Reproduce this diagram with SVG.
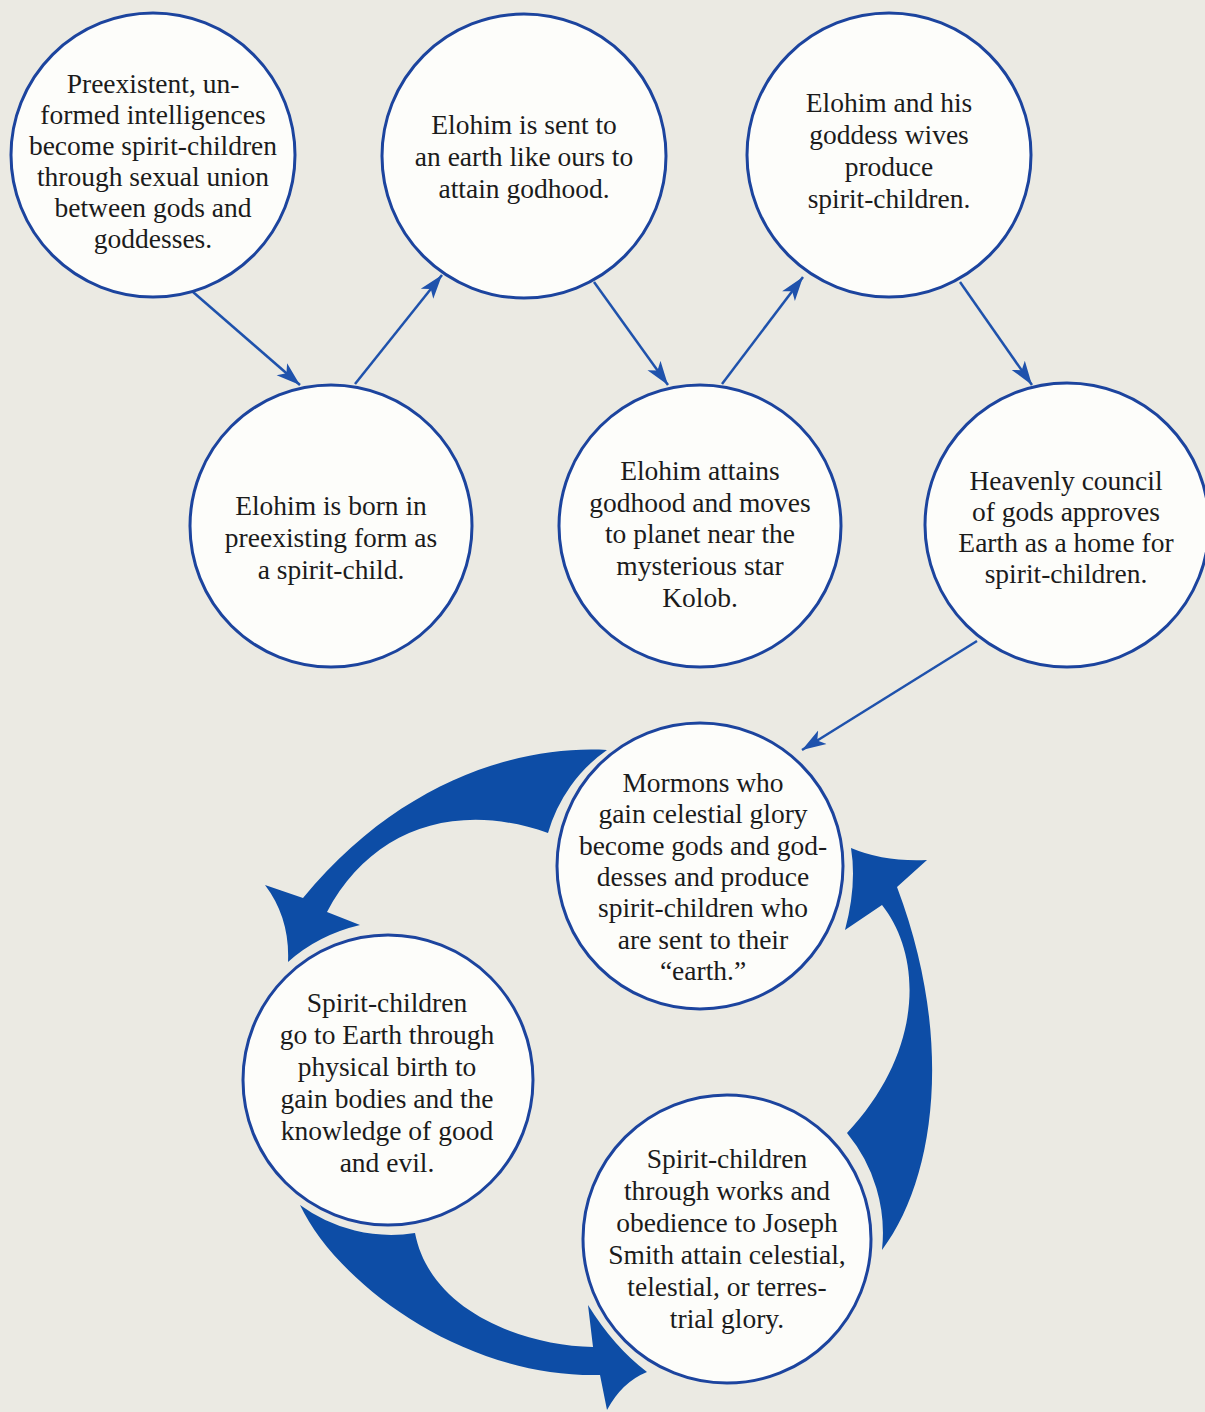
<svg xmlns="http://www.w3.org/2000/svg" width="1205" height="1412" viewBox="0 0 1205 1412">
<style>
.bg{fill:#ebeae3}
.node circle{fill:#fdfdfa;stroke:#1c449e;stroke-width:3}
.node text{font-family:"Liberation Serif","Times New Roman",serif;font-size:27.5px;fill:#1b1b1b;text-anchor:middle}
.link{fill:none;stroke:#1f52ac;stroke-width:2.5;marker-end:url(#ah)}
.big{fill:#0d4da6}
</style>
<defs>
<marker id="ah" viewBox="-24 -9 25 18" refX="0" refY="0" markerWidth="25" markerHeight="18" markerUnits="userSpaceOnUse" orient="auto">
<path d="M0,0 L-24,-8 L-18,0 L-24,8 Z" fill="#1f52ac"/>
</marker>
</defs>
<rect class="bg" x="0" y="0" width="1205" height="1412"/>

<g id="connectors">
<line class="link" x1="193" y1="292" x2="300" y2="385"/>
<line class="link" x1="355" y1="384" x2="442" y2="275"/>
<line class="link" x1="594" y1="282" x2="668" y2="385"/>
<line class="link" x1="722" y1="384" x2="803" y2="277"/>
<line class="link" x1="960" y1="282" x2="1032" y2="385"/>
<line class="link" x1="977" y1="641" x2="802" y2="750"/>
<path class="big" d="M607,750 C520,745 400,780 303,898 L265,885 Q290,918 288,962 Q318,935 360,925 L327,912 C370,830 455,800 548,833 A152,152 0 0 1 607,750 Z"/>
<path class="big" d="M882,1250 C935,1180 955,1040 897,887 L927,860 Q884,862 851,848 Q857,885 845,930 L882,905 C922,955 925,1050 847,1133 A157,157 0 0 1 882,1250 Z"/>
<path class="big" d="M300,1205 C335,1280 460,1378 600,1375 L607,1410 Q622,1382 647,1372 Q614,1347 588,1305 L593,1347 C520,1345 430,1310 415,1233 A154,154 0 0 1 300,1205 Z"/>
</g>

<g id="n1" class="node">
<circle cx="153" cy="155" r="142"/>
<text x="153" y="93">Preexistent, un-</text>
<text x="153" y="124">formed intelligences</text>
<text x="153" y="155">become spirit-children</text>
<text x="153" y="186">through sexual union</text>
<text x="153" y="217">between gods and</text>
<text x="153" y="248">goddesses.</text>
</g>
<g id="n2" class="node">
<circle cx="524" cy="156" r="142"/>
<text x="524" y="134">Elohim is sent to</text>
<text x="524" y="166">an earth like ours to</text>
<text x="524" y="198">attain godhood.</text>
</g>
<g id="n3" class="node">
<circle cx="889" cy="155" r="142"/>
<text x="889" y="112">Elohim and his</text>
<text x="889" y="144">goddess wives</text>
<text x="889" y="176">produce</text>
<text x="889" y="208">spirit-children.</text>
</g>
<g id="n4" class="node">
<circle cx="331" cy="526" r="141"/>
<text x="331" y="515">Elohim is born in</text>
<text x="331" y="547">preexisting form as</text>
<text x="331" y="579">a spirit-child.</text>
</g>
<g id="n5" class="node">
<circle cx="700" cy="526" r="141"/>
<text x="700" y="480">Elohim attains</text>
<text x="700" y="512">godhood and moves</text>
<text x="700" y="543">to planet near the</text>
<text x="700" y="575">mysterious star</text>
<text x="700" y="607">Kolob.</text>
</g>
<g id="n6" class="node">
<circle cx="1067" cy="525" r="142"/>
<text x="1066" y="490">Heavenly council</text>
<text x="1066" y="521">of gods approves</text>
<text x="1066" y="552">Earth as a home for</text>
<text x="1066" y="583">spirit-children.</text>
</g>
<g id="n7" class="node">
<circle cx="700" cy="866" r="143"/>
<text x="703" y="792">Mormons who</text>
<text x="703" y="823">gain celestial glory</text>
<text x="703" y="855">become gods and god-</text>
<text x="703" y="886">desses and produce</text>
<text x="703" y="917">spirit-children who</text>
<text x="703" y="949">are sent to their</text>
<text x="703" y="980">“earth.”</text>
</g>
<g id="n8" class="node">
<circle cx="388" cy="1080" r="145"/>
<text x="387" y="1012">Spirit-children</text>
<text x="387" y="1044">go to Earth through</text>
<text x="387" y="1076">physical birth to</text>
<text x="387" y="1108">gain bodies and the</text>
<text x="387" y="1140">knowledge of good</text>
<text x="387" y="1172">and evil.</text>
</g>
<g id="n9" class="node">
<circle cx="727" cy="1239" r="144"/>
<text x="727" y="1168">Spirit-children</text>
<text x="727" y="1200">through works and</text>
<text x="727" y="1232">obedience to Joseph</text>
<text x="727" y="1264">Smith attain celestial,</text>
<text x="727" y="1296">telestial, or terres-</text>
<text x="727" y="1328">trial glory.</text>
</g>
</svg>
